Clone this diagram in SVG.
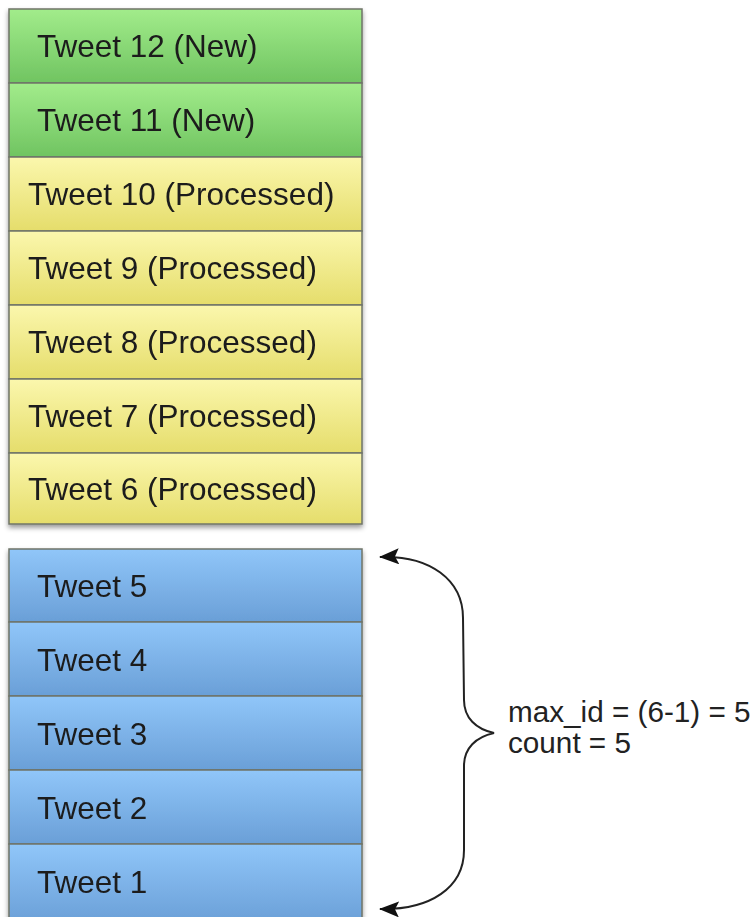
<svg xmlns="http://www.w3.org/2000/svg" width="753" height="917" viewBox="0 0 753 917">
  <style>
    .row { stroke: #6f7468; stroke-width: 1.5; }
    .green { fill: url(#gGreen); }
    .yellow { fill: url(#gYellow); }
    .blue { fill: url(#gBlue); }
    .label { font-family: "Liberation Sans", Arial, sans-serif; font-size: 31.5px; fill: #1c1c1c; }
    .note { font-family: "Liberation Sans", Arial, sans-serif; font-size: 29.7px; fill: #222; }
    .brace { fill: none; stroke: #222; stroke-width: 2; }
  </style>
  <defs>
    <linearGradient id="gGreen" x1="0" y1="0" x2="0" y2="1">
      <stop offset="0" stop-color="#a2ec8b"/>
      <stop offset="1" stop-color="#70c461"/>
    </linearGradient>
    <linearGradient id="gYellow" x1="0" y1="0" x2="0" y2="1">
      <stop offset="0" stop-color="#fbf7ad"/>
      <stop offset="1" stop-color="#e5dd6b"/>
    </linearGradient>
    <linearGradient id="gBlue" x1="0" y1="0" x2="0" y2="1">
      <stop offset="0" stop-color="#90c6f9"/>
      <stop offset="1" stop-color="#6a9fd7"/>
    </linearGradient>
    <filter id="shadow" x="-5%" y="-5%" width="110%" height="110%">
      <feDropShadow dx="0" dy="3" stdDeviation="2.5" flood-color="#000" flood-opacity="0.4"/>
    </filter>
    <!-- filled arrowhead, tip along +x -->
    <marker id="arrow" viewBox="0 0 20 16" refX="19" refY="8" markerWidth="20" markerHeight="16" markerUnits="userSpaceOnUse" orient="auto-start-reverse">
      <path d="M20,8 L0,0 L4,8 L0,16 Z" fill="#111"/>
    </marker>
  </defs>

  <!-- upper stack: new and processed tweets -->
  <g id="stack-top" filter="url(#shadow)">
    <g id="tweet12"><rect class="row green" x="9" y="9" width="353" height="74"/><text class="label" x="37" y="57">Tweet 12 (New)</text></g>
    <g id="tweet11"><rect class="row green" x="9" y="83" width="353" height="74"/><text class="label" x="37" y="131">Tweet 11 (New)</text></g>
    <g id="tweet10"><rect class="row yellow" x="9" y="157" width="353" height="74"/><text class="label" x="28" y="205">Tweet 10 (Processed)</text></g>
    <g id="tweet9"><rect class="row yellow" x="9" y="231" width="353" height="74"/><text class="label" x="28" y="279">Tweet 9 (Processed)</text></g>
    <g id="tweet8"><rect class="row yellow" x="9" y="305" width="353" height="74"/><text class="label" x="28" y="353">Tweet 8 (Processed)</text></g>
    <g id="tweet7"><rect class="row yellow" x="9" y="379" width="353" height="74"/><text class="label" x="28" y="427">Tweet 7 (Processed)</text></g>
    <g id="tweet6"><rect class="row yellow" x="9" y="453" width="353" height="71"/><text class="label" x="28" y="500">Tweet 6 (Processed)</text></g>
  </g>

  <!-- lower stack: tweets still to fetch -->
  <g id="stack-bottom" filter="url(#shadow)">
    <g id="tweet5"><rect class="row blue" x="9" y="549" width="353" height="73"/><text class="label" x="37" y="597">Tweet 5</text></g>
    <g id="tweet4"><rect class="row blue" x="9" y="622" width="353" height="74"/><text class="label" x="37" y="671">Tweet 4</text></g>
    <g id="tweet3"><rect class="row blue" x="9" y="696" width="353" height="74"/><text class="label" x="37" y="745">Tweet 3</text></g>
    <g id="tweet2"><rect class="row blue" x="9" y="770" width="353" height="74"/><text class="label" x="37" y="819">Tweet 2</text></g>
    <g id="tweet1"><rect class="row blue" x="9" y="844" width="353" height="80"/><text class="label" x="37" y="893">Tweet 1</text></g>
  </g>

  <!-- brace spanning tweets 1..5 -->
  <g id="connectors">
    <path class="brace" marker-start="url(#arrow)" marker-end="url(#arrow)"
          d="M380,557 C430,555 463,580 463,618 L464,700 C464,718 476,729 494,733 C476,737 464,748 464,766 L464,850 C464,888 430,910 380,909"/>
  </g>

  <g id="note">
    <text class="note" x="508" y="722">max_id = (6-1) = 5</text>
    <text class="note" x="508" y="753">count = 5</text>
  </g>
</svg>
